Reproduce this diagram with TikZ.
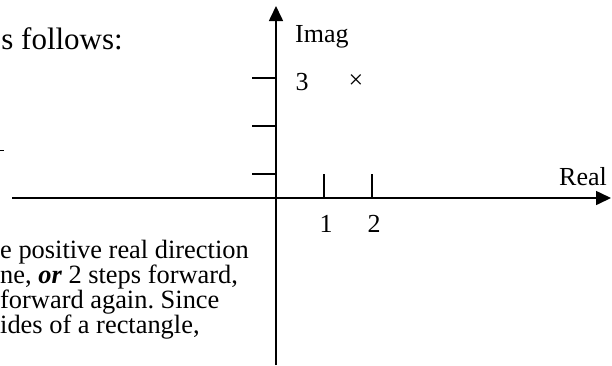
\documentclass[tikz,border=0pt]{standalone}
\usepackage{fontspec}
\setmainfont{Liberation Serif}
\usetikzlibrary{arrows.meta}
\frenchspacing
\begin{document}
\begin{tikzpicture}[x=1pt,y=-1pt,
  axis/.style={line width=1.6pt,-{Triangle[length=15pt,width=14pt]}},
  tickmark/.style={line width=1.4pt},
  lbl/.style={inner sep=0pt,font=\fontsize{26}{26}\selectfont},
  txt/.style={inner sep=0pt,anchor=base west,font=\fontsize{26.4}{26.4}\selectfont}]
  \useasboundingbox (0,0) rectangle (612,365);
  % axes
  \coordinate (ybot) at (276,365);
  \coordinate (ytop) at (276,6);
  \coordinate (xleft) at (12,198);
  \coordinate (xright) at (611,198);
  \draw[axis] (ybot) -- (ytop);
  \draw[axis] (xleft) -- (xright);
  % ticks
  \foreach \y in {78,126,174} \draw[tickmark] (252,\y) -- (276,\y);
  \foreach \x in {324,372} \draw[tickmark] (\x,174) -- (\x,198);
  % labels
  \node[lbl,anchor=base west] (imag) at (295,42) {Imag};
  \node[lbl] (three) at (302,82) {3};
  \node[lbl] (cross) at (356,82) {×};
  \node[lbl,anchor=base east] (real) at (607,185) {Real};
  \node[lbl] (one) at (326,224) {1};
  \node[lbl] (two) at (374,224) {2};
  % text round the picture
  \node[inner sep=0pt,anchor=base east,font=\fontsize{31}{31}\selectfont] (follows) at (123,49) {s follows:};
  \draw[line width=1pt] (0,150) -- (4,150);
  \node[txt] (line1) at (0,258) {e positive real direction};
  \node[txt] (line2) at (0,283) {ne, \textbf{\textit{or}} 2 steps forward,};
  \node[txt] (line3) at (0,308) {forward again. Since};
  \node[txt] (line4) at (0,333) {ides of a rectangle,};
\end{tikzpicture}
\end{document}
